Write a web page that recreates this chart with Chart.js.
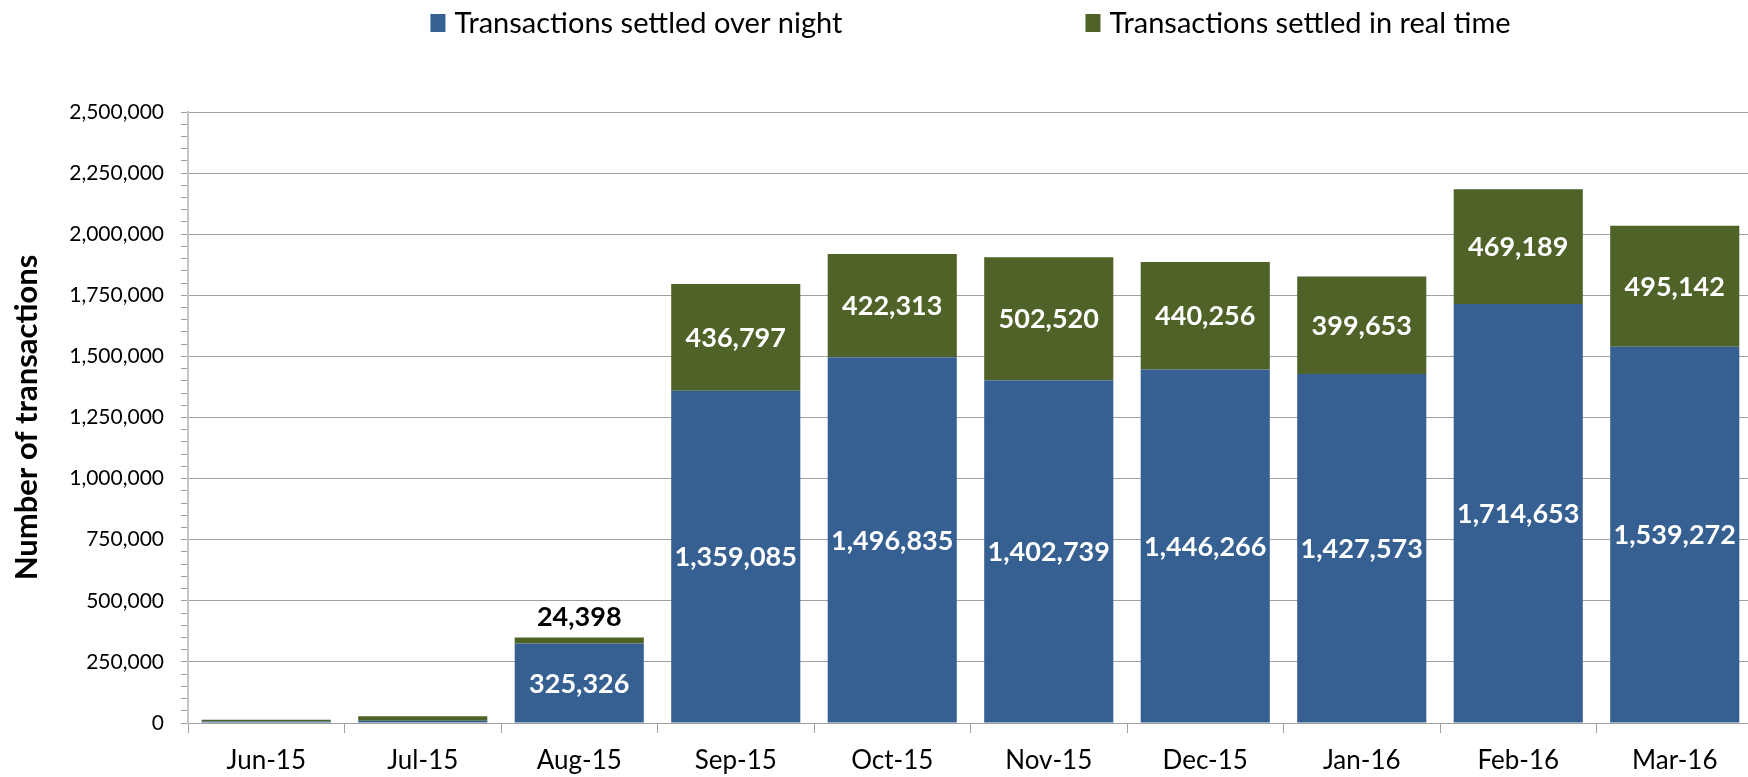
<!DOCTYPE html>
<html>
<head>
<meta charset="utf-8">
<script src="https://cdn.jsdelivr.net/npm/chart.js@4.4.1/dist/chart.umd.min.js"></script>
<style>
  html, body { margin: 0; padding: 0; background: #fff; overflow: hidden; }
  #wrap { position: relative; width: 1748px; height: 777px; overflow: hidden; }
  #txChart { position: absolute; left: 0; top: 0; }
</style>
</head>
<body>
<div id="wrap"><canvas id="txChart" width="1760" height="777"></canvas></div>
<script>
// Monatswerte
const months = ['Jun-15', 'Jul-15', 'Aug-15', 'Sep-15', 'Oct-15', 'Nov-15', 'Dec-15', 'Jan-16', 'Feb-16', 'Mar-16'];
const overnight = [6000, 9000, 325326, 1359085, 1496835, 1402739, 1446266, 1427573, 1714653, 1539272];
const realtime = [7500, 19000, 24398, 436797, 422313, 502520, 440256, 399653, 469189, 495142];
const seriesNames = ['Transactions settled over night', 'Transactions settled in real time'];
const yTitle = 'Number of transactions';

const blue = '#376092';
const green = '#4F6228';
const gridGray = '#a0a0a0';
const fontFamily = 'Lato, "Open Sans", sans-serif';

const fmt = v => v.toLocaleString('en-US');

// Werte in den Balken (kein datalabels-Plugin vorhanden)
const barLabels = {
  id: 'barLabels',
  afterDatasetsDraw(chart) {
    const ctx = chart.ctx;
    ctx.save();
    ctx.font = 'bold 27px ' + fontFamily;
    ctx.textAlign = 'center';
    ctx.textBaseline = 'middle';
    chart.data.datasets.forEach((ds, di) => {
      const meta = chart.getDatasetMeta(di);
      meta.data.forEach((bar, i) => {
        const value = ds.data[i];
        if (value < 20000) return;
        const { x, y, base } = bar.getProps(['x', 'y', 'base'], true);
        const h = Math.abs(base - y);
        if (h > 30) {
          ctx.fillStyle = '#ffffff';
          ctx.fillText(fmt(value), x, (y + base) / 2 + 1);
        } else {
          ctx.fillStyle = '#000000';
          ctx.fillText(fmt(value), x, y - 20);
        }
      });
    });
    ctx.restore();
  }
};

// Legende wie im Original: breiter Abstand zwischen den Einträgen
const topLegend = {
  id: 'topLegend',
  afterDraw(chart) {
    const ctx = chart.ctx;
    const area = chart.chartArea;
    const boxW = 15, boxH = 18, boxGap = 9, itemGap = 243;
    ctx.save();
    ctx.font = '29px ' + fontFamily;
    ctx.textBaseline = 'middle';
    ctx.textAlign = 'left';
    const items = chart.data.datasets.map(ds => ({
      text: ds.label,
      color: ds.backgroundColor,
      w: boxW + boxGap + ctx.measureText(ds.label).width
    }));
    const total = items.reduce((s, it) => s + it.w, 0) + itemGap * (items.length - 1);
    let x = (area.left + area.right) / 2 - total / 2;
    const cy = 23;
    items.forEach(it => {
      ctx.fillStyle = it.color;
      ctx.fillRect(x, cy - boxH / 2, boxW, boxH);
      ctx.fillStyle = '#000';
      ctx.fillText(it.text, x + boxW + boxGap, cy + 1);
      x += it.w + itemGap;
    });
    ctx.restore();
  }
};

const canvas = document.getElementById('txChart');
new Chart(canvas.getContext('2d'), {
  type: 'bar',
  data: {
    labels: months,
    datasets: [
      { label: seriesNames[0], data: overnight, backgroundColor: blue, categoryPercentage: 1, barPercentage: 0.825 },
      { label: seriesNames[1], data: realtime, backgroundColor: green, categoryPercentage: 1, barPercentage: 0.825 }
    ]
  },
  options: {
    responsive: false,
    animation: false,
    devicePixelRatio: 1,
    layout: { padding: { top: 112, right: 7, left: 0, bottom: 0 } },
    plugins: {
      legend: { display: false },
      tooltip: { enabled: false }
    },
    scales: {
      x: {
        stacked: true,
        grid: { display: true, drawOnChartArea: false, color: gridGray, tickLength: 10 },
        border: { color: gridGray, width: 1 },
        ticks: { color: '#000', font: { family: fontFamily, size: 26 }, padding: 12, maxRotation: 0 },
        afterFit(scale) { scale.height = 54; }
      },
      y: {
        stacked: true,
        min: 0,
        max: 2500000,
        grid: {
          color: c => (c.tick && c.tick.value % 250000 === 0) ? gridGray : 'rgba(0,0,0,0)',
          tickColor: gridGray,
          tickLength: 7
        },
        border: { color: '#c4c4c4', width: 2 },
        ticks: {
          stepSize: 50000,
          autoSkip: false,
          color: '#000',
          padding: 17,
          font: { family: fontFamily, size: 21 },
          callback: v => v % 250000 === 0 ? fmt(v) : ''
        },
        title: {
          display: true,
          text: yTitle,
          color: '#000',
          font: { family: fontFamily, size: 31, weight: 'bold' },
          padding: { top: 8, bottom: 0 }
        },
        afterFit(scale) { scale.width = 188; }
      }
    }
  },
  plugins: [barLabels, topLegend]
});
</script>
</body>
</html>
